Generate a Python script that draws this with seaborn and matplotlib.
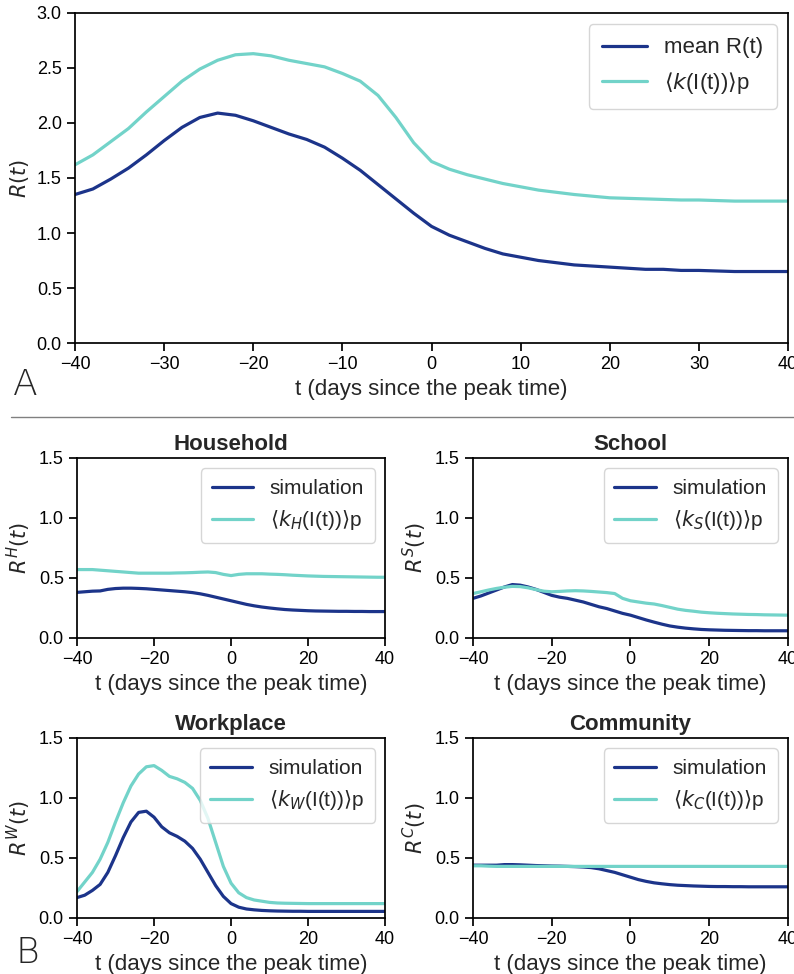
import matplotlib
matplotlib.use("Agg")
import matplotlib.pyplot as plt
import seaborn as sns
import pandas as pd

# time grid (days since the peak time)
t = list(range(-40, 41, 2))

# panel A
mean_r = [1.35, 1.40, 1.49, 1.59, 1.71, 1.84, 1.96, 2.05, 2.09, 2.07,
          2.02, 1.96, 1.90, 1.85, 1.78, 1.68, 1.57, 1.44, 1.31, 1.18,
          1.06, 0.98, 0.92, 0.86, 0.81, 0.78, 0.75, 0.73, 0.71, 0.70,
          0.69, 0.68, 0.67, 0.67, 0.66, 0.66, 0.655, 0.65, 0.65, 0.65, 0.65]
k_mean = [1.62, 1.71, 1.83, 1.95, 2.10, 2.24, 2.38, 2.49, 2.57, 2.62,
          2.63, 2.61, 2.57, 2.54, 2.51, 2.45, 2.38, 2.25, 2.05, 1.82,
          1.65, 1.58, 1.53, 1.49, 1.45, 1.42, 1.39, 1.37, 1.35, 1.335,
          1.32, 1.315, 1.31, 1.305, 1.30, 1.30, 1.295, 1.29, 1.29, 1.29, 1.29]

# panel B
house_sim = [0.38, 0.385, 0.39, 0.392, 0.405, 0.412, 0.415, 0.415, 0.413, 0.41,
             0.405, 0.40, 0.395, 0.39, 0.385, 0.378, 0.368, 0.355, 0.34, 0.325,
             0.31, 0.295, 0.28, 0.268, 0.258, 0.25, 0.243, 0.237, 0.233, 0.23,
             0.227, 0.225, 0.224, 0.223, 0.222, 0.222, 0.221, 0.221, 0.22, 0.22, 0.22]
house_k = [0.57, 0.57, 0.57, 0.565, 0.56, 0.555, 0.55, 0.545, 0.54, 0.54,
           0.54, 0.54, 0.54, 0.542, 0.543, 0.545, 0.548, 0.55, 0.545, 0.53,
           0.52, 0.53, 0.535, 0.535, 0.535, 0.532, 0.53, 0.527, 0.523, 0.52,
           0.517, 0.515, 0.513, 0.512, 0.511, 0.51, 0.509, 0.508, 0.507, 0.506, 0.506]
school_sim = [0.33, 0.35, 0.375, 0.40, 0.425, 0.445, 0.44, 0.425, 0.405, 0.38,
              0.355, 0.34, 0.33, 0.315, 0.30, 0.28, 0.26, 0.245, 0.225, 0.205,
              0.19, 0.17, 0.15, 0.132, 0.115, 0.10, 0.09, 0.082, 0.076, 0.071,
              0.068, 0.066, 0.064, 0.063, 0.062, 0.061, 0.061, 0.06, 0.06, 0.06, 0.06]
school_k = [0.37, 0.385, 0.40, 0.413, 0.423, 0.43, 0.428, 0.418, 0.403, 0.39,
            0.385, 0.388, 0.392, 0.394, 0.392, 0.388, 0.383, 0.378, 0.37, 0.33,
            0.31, 0.30, 0.29, 0.283, 0.27, 0.255, 0.24, 0.23, 0.223, 0.215,
            0.21, 0.206, 0.203, 0.20, 0.198, 0.196, 0.195, 0.193, 0.192, 0.191, 0.19]
work_sim = [0.17, 0.19, 0.23, 0.28, 0.38, 0.52, 0.67, 0.80, 0.88, 0.89,
            0.84, 0.76, 0.71, 0.68, 0.64, 0.58, 0.49, 0.38, 0.27, 0.18,
            0.12, 0.09, 0.075, 0.068, 0.063, 0.06, 0.058, 0.057, 0.056, 0.056,
            0.055, 0.055, 0.055, 0.055, 0.055, 0.055, 0.055, 0.055, 0.055, 0.055, 0.055]
work_k = [0.22, 0.30, 0.38, 0.49, 0.63, 0.80, 0.96, 1.10, 1.20, 1.26,
          1.27, 1.23, 1.18, 1.16, 1.13, 1.08, 0.98, 0.83, 0.63, 0.43,
          0.29, 0.21, 0.17, 0.15, 0.14, 0.13, 0.125, 0.123, 0.122, 0.121,
          0.12, 0.12, 0.12, 0.12, 0.12, 0.12, 0.12, 0.12, 0.12, 0.12, 0.12]
comm_sim = [0.44, 0.44, 0.44, 0.44, 0.445, 0.445, 0.443, 0.44, 0.437, 0.435,
            0.433, 0.432, 0.43, 0.428, 0.425, 0.42, 0.41, 0.395, 0.38, 0.36,
            0.34, 0.32, 0.305, 0.293, 0.285, 0.278, 0.273, 0.27, 0.267, 0.265,
            0.263, 0.262, 0.262, 0.261, 0.261, 0.26, 0.26, 0.26, 0.26, 0.26, 0.26]
comm_k = [0.435, 0.435, 0.432, 0.43, 0.43, 0.43, 0.43, 0.43, 0.43, 0.43,
          0.43, 0.43, 0.43, 0.43, 0.43, 0.43, 0.43, 0.43, 0.43, 0.43,
          0.43, 0.43, 0.43, 0.43, 0.43, 0.43, 0.43, 0.43, 0.43, 0.43,
          0.43, 0.43, 0.43, 0.43, 0.43, 0.43, 0.43, 0.43, 0.43, 0.43, 0.43]

panels = [
    ("Household", "H", "H", house_sim, house_k),
    ("School", "S", "S", school_sim, school_k),
    ("Workplace", "W", "W", work_sim, work_k),
    ("Community", "C", "C", comm_sim, comm_k),
]

DARK = "#1c348a"
CYAN = "#72d3c9"

sns.set_theme(style="ticks")
plt.rcParams["font.family"] = ["Liberation Sans", "DejaVu Sans"]
plt.rcParams["mathtext.fontset"] = "dejavusans"
plt.rcParams["axes.edgecolor"] = "black"
plt.rcParams["xtick.color"] = "black"
plt.rcParams["ytick.color"] = "black"

fig = plt.figure(figsize=(7.94, 9.74), dpi=100)

# panel A
ax = fig.add_axes([0.0945, 0.6478, 0.898, 0.3389])
df = pd.DataFrame({"t": t, "mean": mean_r, "k": k_mean})
sns.lineplot(data=df, x="t", y="mean", color=DARK, lw=2.3, ax=ax, label="mean R(t)")
sns.lineplot(data=df, x="t", y="k", color=CYAN, lw=2.3, ax=ax,
             label=r"$\langle k$(I(t))$\rangle$p")
ax.set_xlim(-40, 40)
ax.set_ylim(0, 3)
ax.set_yticks([0, 0.5, 1.0, 1.5, 2.0, 2.5, 3.0])
ax.set_xlabel("t (days since the peak time)", fontsize=16)
ax.set_ylabel("$R(t)$", fontsize=15)
ax.tick_params(labelsize=13)
ax.legend(loc="upper right", fontsize=16, borderpad=0.6)
fig.text(0.016, 0.5945, "A", fontsize=26, fontfamily="DejaVu Sans",
         fontweight="ultralight")

# divider
fig.add_artist(plt.Line2D([0.014, 1.0], [0.572, 0.572], color="gray", lw=1))

# panel B
rects = [
    [0.097, 0.345, 0.388, 0.1848],
    [0.5957, 0.345, 0.3967, 0.1848],
    [0.097, 0.0575, 0.388, 0.1848],
    [0.5957, 0.0575, 0.3967, 0.1848],
]
for rect, (title, sup, sub, sim, kk) in zip(rects, panels):
    ax = fig.add_axes(rect)
    d = pd.DataFrame({"t": t, "sim": sim, "k": kk})
    sns.lineplot(data=d, x="t", y="sim", color=DARK, lw=2.3, ax=ax, label="simulation")
    sns.lineplot(data=d, x="t", y="k", color=CYAN, lw=2.3, ax=ax,
                 label=r"$\langle k_{%s}$(I(t))$\rangle$p" % sub)
    ax.set_xlim(-40, 40)
    ax.set_ylim(0, 1.5)
    ax.set_xticks([-40, -20, 0, 20, 40])
    ax.set_yticks([0, 0.5, 1.0, 1.5])
    ax.set_title(title, fontsize=16, fontweight="bold")
    ax.set_xlabel("t (days since the peak time)", fontsize=16)
    ax.set_ylabel("$R^{%s}(t)$" % sup, fontsize=15)
    ax.tick_params(labelsize=13)
    ax.legend(loc="upper right", fontsize=15, borderpad=0.5)

fig.text(0.02, 0.011, "B", fontsize=26, fontfamily="DejaVu Sans",
         fontweight="ultralight")

fig.savefig("out.png", dpi=100)
